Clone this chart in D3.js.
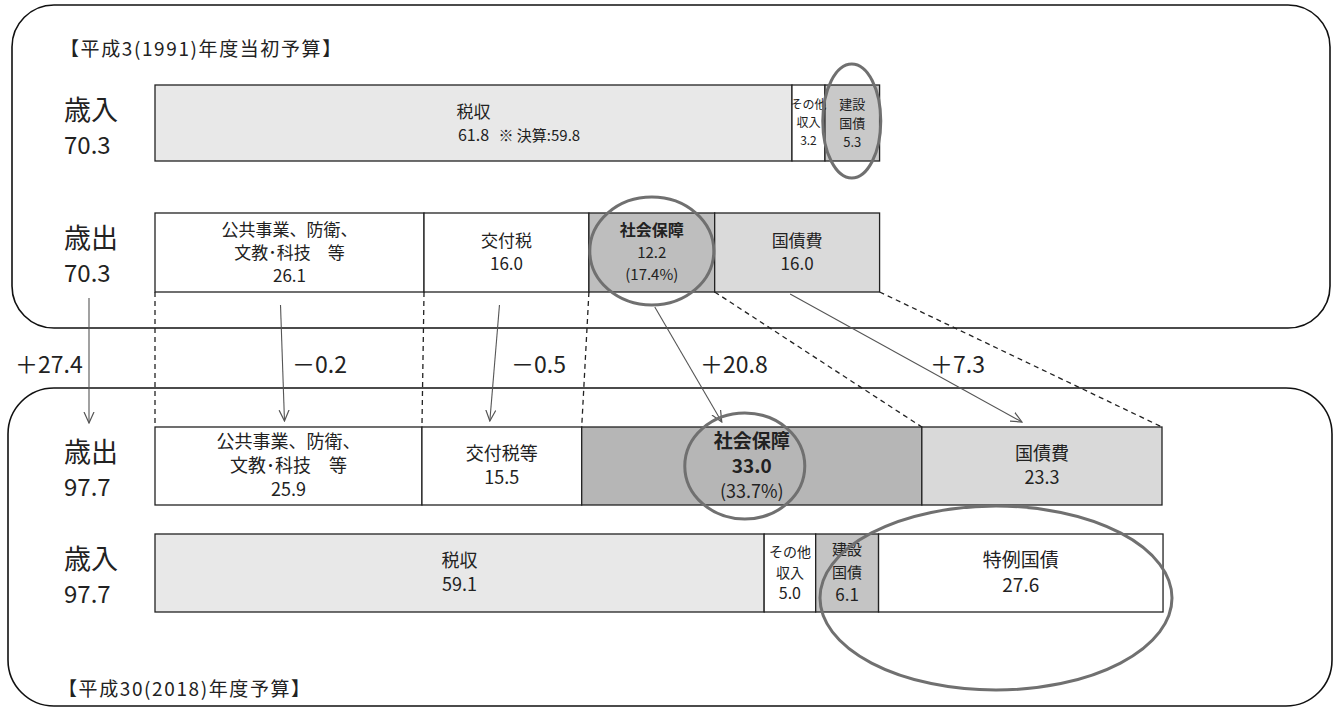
<!DOCTYPE html>
<html>
<head>
<meta charset="utf-8">
<script src="https://cdn.jsdelivr.net/npm/d3@7"></script>
<style>
  body { margin: 0; background: #fff; }
  text { font-family: "Noto Sans CJK JP", "Noto Sans", sans-serif; fill: #222; }
</style>
</head>
<body>
<div id="chart"></div>
<script>
const width = 1340, height = 709;

// 1991 budget (trillion yen)
const rev1991Labels = [["税収", "61.8"], ["その他", "収入", "3.2"], ["建設", "国債", "5.3"]];
const rev1991Values = [61.8, 3.2, 5.3];
const rev1991Note = "※ 決算:59.8";
const exp1991Labels = [["公共事業、防衛、", "文教･科技　等", "26.1"], ["交付税", "16.0"], ["社会保障", "12.2", "(17.4%)"], ["国債費", "16.0"]];
const exp1991Values = [26.1, 16.0, 12.2, 16.0];

// 2018 budget
const exp2018Labels = [["公共事業、防衛、", "文教･科技　等", "25.9"], ["交付税等", "15.5"], ["社会保障", "33.0", "(33.7%)"], ["国債費", "23.3"]];
const exp2018Values = [25.9, 15.5, 33.0, 23.3];
const rev2018Labels = [["税収", "59.1"], ["その他", "収入", "5.0"], ["建設", "国債", "6.1"], ["特例国債", "27.6"]];
const rev2018Values = [59.1, 5.0, 6.1, 27.6];

const totals = ["70.3", "70.3", "97.7", "97.7"];
const changes = ["＋27.4", "－0.2", "－0.5", "＋20.8", "＋7.3"];

const svg = d3.select('#chart').append('svg')
    .attr('width', width)
    .attr('height', height);

const x = d3.scaleLinear().domain([0, 97.7]).range([155, 1162]);
const w = v => x(v) - x(0);

svg.append('defs').append('marker')
    .attr('id', 'arr')
    .attr('viewBox', '0 0 12 12')
    .attr('refX', 11).attr('refY', 6)
    .attr('markerWidth', 12).attr('markerHeight', 12)
    .attr('markerUnits', 'userSpaceOnUse')
    .attr('orient', 'auto')
  .append('path')
    .attr('d', 'M0,1 L11,6 L0,11')
    .attr('fill', 'none')
    .attr('stroke', '#555')
    .attr('stroke-width', 1.2);

// panels
svg.append('rect').attr('x', 12).attr('y', 5).attr('width', 1318).attr('height', 323)
    .attr('rx', 42).attr('fill', 'none').attr('stroke', '#111').attr('stroke-width', 1.6);
svg.append('rect').attr('x', 8).attr('y', 388).attr('width', 1324).attr('height', 318)
    .attr('rx', 46).attr('fill', 'none').attr('stroke', '#111').attr('stroke-width', 1.6);

svg.append('text').attr('x', 60).attr('y', 56).attr('font-size', 19)
    .attr('letter-spacing', 1.6).text('【平成3(1991)年度当初予算】');
svg.append('text').attr('x', 58).attr('y', 696).attr('font-size', 19)
    .attr('letter-spacing', 1.6).text('【平成30(2018)年度予算】');

// stacks
function stack(values) {
    let acc = 0;
    return values.map(v => { const s = acc; acc += v; return { x0: s, x1: acc, v }; });
}

const rows = [
    { y: 85, h: 76, values: rev1991Values, labels: rev1991Labels,
      fills: ['#e8e8e8', '#fff', '#c9c9c9'], fs: [[17, 16], [12], [13]], lh: [23, 18, 19], bold: [],
      title: '歳入', total: totals[0] },
    { y: 213, h: 79, values: exp1991Values, labels: exp1991Labels,
      fills: ['#fff', '#fff', '#bebebe', '#dadada'], fs: [[17], [17], [16, 15, 15], [17]], lh: [23, 23, 22, 23], bold: [2],
      title: '歳出', total: totals[1] },
    { y: 427, h: 78, values: exp2018Values, labels: exp2018Labels,
      fills: ['#fff', '#fff', '#b6b6b6', '#d9d9d9'], fs: [[18], [18], [19, 19, 18], [18]], lh: [24, 24, 25, 24], bold: [2],
      title: '歳出', total: totals[2] },
    { y: 534, h: 78, values: rev2018Values, labels: rev2018Labels,
      fills: ['#e8e8e8', '#fff', '#c4c4c4', '#fff'], fs: [[18], [14, 14, 16], [15, 15, 17], [19]], lh: [24, 21, 23, 25], bold: [],
      title: '歳入', total: totals[3] }
];

rows.forEach((r, ri) => {
    const segs = stack(r.values);
    const g = svg.append('g');
    g.selectAll('rect').data(segs).enter().append('rect')
        .attr('x', d => x(d.x0)).attr('y', r.y)
        .attr('width', d => w(d.v)).attr('height', r.h)
        .attr('fill', (d, i) => r.fills[i])
        .attr('stroke', '#222').attr('stroke-width', 1.3);
    segs.forEach((d, i) => {
        const lines = r.labels[i];
        const cx = (x(d.x0) + x(d.x1)) / 2;
        const lh = r.lh[i];
        const sizes = r.fs[i];
        const fsAt = k => sizes[Math.min(k, sizes.length - 1)];
        const top = r.y + r.h / 2 - (lines.length - 1) * lh / 2 + fsAt(0) * 0.36;
        g.append('text')
            .attr('text-anchor', 'middle')
            .selectAll('tspan').data(lines).enter().append('tspan')
            .attr('x', cx)
            .attr('y', (t, k) => top + k * lh)
            .attr('font-size', (t, k) => fsAt(k))
            .attr('font-weight', (t, k) => (r.bold.includes(i) && (k === 0 || ri === 2 && k === 1)) ? 'bold' : 'normal')
            .text(t => t);
        if (ri === 0 && i === 0) {
            g.append('text')
                .attr('x', cx + 25).attr('y', top + lh)
                .attr('font-size', 15)
                .text(rev1991Note);
        }
    });
    svg.append('text').attr('x', 64).attr('y', r.y + 35).attr('font-size', 27).text(r.title);
    svg.append('text').attr('x', 64).attr('y', r.y + 69).attr('font-size', 24).text(r.total);
});

// connectors between 1991 and 2018 expenditure
const topSegs = stack(exp1991Values), botSegs = stack(exp2018Values);
const yTop = rows[1].y + rows[1].h, yBot = rows[2].y;
const bounds = [[0, 0]].concat(topSegs.map((d, i) => [d.x1, botSegs[i].x1]));
svg.selectAll('.conn').data(bounds).enter().append('line')
    .attr('x1', d => x(d[0])).attr('y1', yTop)
    .attr('x2', d => x(d[1])).attr('y2', yBot)
    .attr('stroke', '#222').attr('stroke-width', 1.3)
    .attr('stroke-dasharray', '5,4');

// arrows
const mid = s => (x(s.x0) + x(s.x1)) / 2;
const arrows = [
    [89, 298, 89, 423],
    [mid(topSegs[0]) - 9, 305, mid(botSegs[0]) - 4, 421],
    [mid(topSegs[1]) - 7, 305, mid(botSegs[1]) - 12, 421],
    [mid(topSegs[2]) + 3, 307, mid(botSegs[2]) - 30, 422],
    [mid(topSegs[3]) - 7, 294, mid(botSegs[3]) - 20, 422]
];
svg.selectAll('.arrow').data(arrows).enter().append('line')
    .attr('x1', d => d[0]).attr('y1', d => d[1])
    .attr('x2', d => d[2]).attr('y2', d => d[3])
    .attr('stroke', '#555').attr('stroke-width', 1.1)
    .attr('marker-end', 'url(#arr)');

const changeX = [15, 292, 511, 700, 930];
svg.selectAll('.chg').data(changes).enter().append('text')
    .attr('x', (d, i) => changeX[i]).attr('y', 373)
    .attr('font-size', 23).attr('fill', '#333')
    .text(d => d);

// highlight ellipses
const ellipses = [
    [x(65) + w(5.3) / 2 - 0.5, 121, 29, 57],
    [mid(topSegs[2]), 251, 62, 54],
    [mid(botSegs[2]) - 7, 466, 60, 53],
    [996, 598, 176, 92]
];
svg.selectAll('.hl').data(ellipses).enter().append('ellipse')
    .attr('cx', d => d[0]).attr('cy', d => d[1])
    .attr('rx', d => d[2]).attr('ry', d => d[3])
    .attr('fill', 'none').attr('stroke', '#707070').attr('stroke-width', 3);
</script>
</body>
</html>
